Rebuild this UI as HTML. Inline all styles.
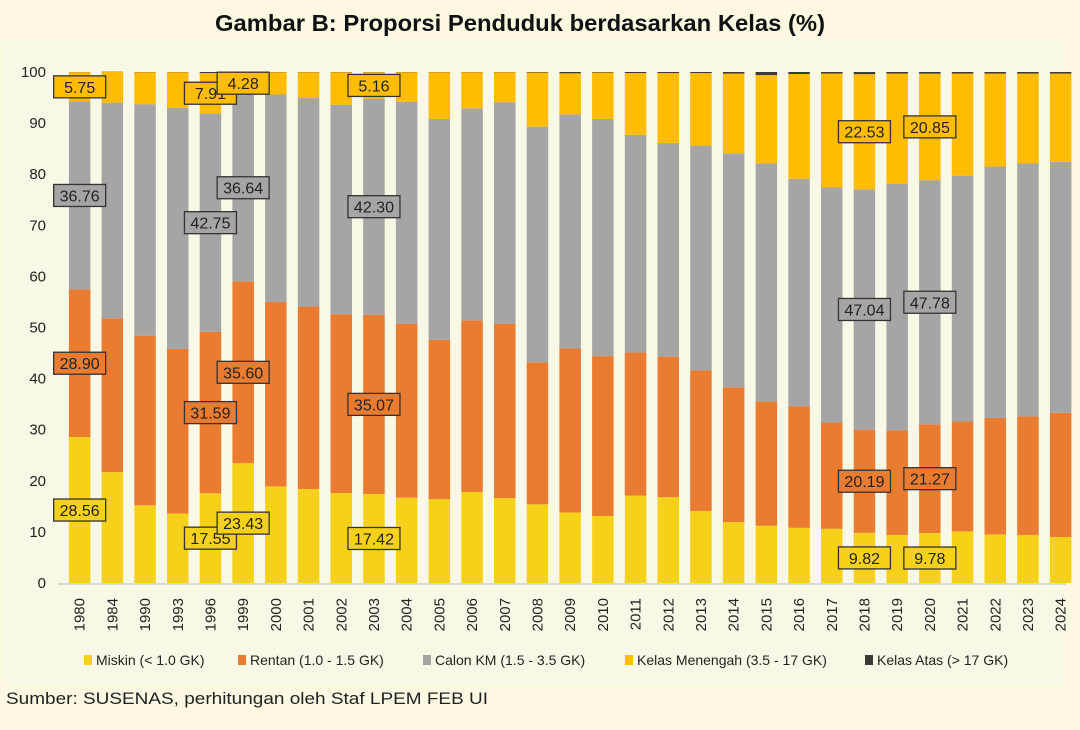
<!DOCTYPE html>
<html><head><meta charset="utf-8">
<style>
html,body{margin:0;padding:0;background:#fdf8e2;}
svg{display:block;font-family:"Liberation Sans",sans-serif;}
</style></head>
<body>
<svg id="chart" width="1080" height="730" viewBox="0 0 1080 730">
<rect x="0" y="0" width="1080" height="730" fill="#fdf8e2"/>
<rect x="4" y="41" width="1062" height="642" fill="#f9f8e6"/>
<text x="520" y="31" text-anchor="middle" font-size="23" font-weight="bold" fill="#111" textLength="610" lengthAdjust="spacingAndGlyphs">Gambar B: Proporsi Penduduk berdasarkan Kelas (%)</text>
<text x="6" y="704" font-size="17" fill="#222" textLength="482" lengthAdjust="spacingAndGlyphs">Sumber: SUSENAS, perhitungan oleh Staf LPEM FEB UI</text>
<g id="plot"></g>
</svg>
<script>
const years = ["1980","1984","1990","1993","1996","1999","2000","2001","2002","2003","2004","2005","2006","2007","2008","2009","2010","2011","2012","2013","2014","2015","2016","2017","2018","2019","2020","2021","2022","2023","2024"];
const miskin = [28.56,21.7,15.2,13.6,17.55,23.43,18.9,18.4,17.6,17.42,16.7,16.4,17.8,16.6,15.4,13.8,13.1,17.1,16.8,14.1,11.9,11.2,10.8,10.6,9.82,9.4,9.78,10.1,9.5,9.4,9.0];
const rentan = [28.90,30.1,33.2,32.2,31.59,35.60,36.1,35.7,35.0,35.07,34.0,31.2,33.6,34.1,27.8,32.1,31.3,28.0,27.5,27.5,26.4,24.3,23.8,20.8,20.19,20.5,21.27,21.5,22.8,23.2,24.3];
const calonKM = [36.76,42.2,45.3,47.2,42.75,36.64,40.6,40.8,41.0,42.30,43.5,43.2,41.5,43.4,46.1,45.8,46.4,42.6,41.8,44.0,45.8,46.6,44.5,46.0,47.04,48.2,47.78,48.1,49.2,49.5,49.1];
const menengah = [5.75,6.0,6.25,6.95,7.91,4.28,4.35,5.05,6.35,5.16,5.75,9.15,7.05,5.85,10.6,8.05,9.1,12.1,13.7,14.2,15.6,17.3,20.5,22.3,22.53,21.6,20.85,20.0,18.2,17.6,17.3];
const atas = [0.03,0.05,0.05,0.05,0.2,0.05,0.05,0.05,0.05,0.05,0.05,0.05,0.05,0.05,0.1,0.25,0.1,0.2,0.2,0.2,0.3,0.6,0.4,0.3,0.42,0.3,0.32,0.3,0.3,0.3,0.3];
const yTicks = [0,10,20,30,40,50,60,70,80,90,100];
const seriesNames = ["Miskin (< 1.0 GK)","Rentan (1.0 - 1.5 GK)","Calon KM (1.5 - 3.5 GK)","Kelas Menengah (3.5 - 17 GK)","Kelas Atas (> 17 GK)"];
const labeledYears = ["1980","1996","1999","2003","2018","2020"];

const NS = "http://www.w3.org/2000/svg";
const plot = document.getElementById("plot");
const colors = ["#f5d11a","#e97c30","#a5a5a5","#ffbc00","#3a3a3a"];
const keys = ["miskin","rentan","calon-km","kelas-menengah","kelas-atas"];
const series = [miskin,rentan,calonKM,menengah,atas];
const y0 = 583, pxPerUnit = 5.11, x0 = 63.3, band = 32.7, barW = 21.5;
function yScale(v){ return y0 - v*pxPerUnit; }
function xCenter(i){ return x0 + band*i + band/2; }
function mk(tag, attrs){ const e=document.createElementNS(NS,tag); for(const k in attrs) e.setAttribute(k,attrs[k]); return e; }

// y ticks
yTicks.forEach(t=>{
  const tx = mk("text",{x:46,y:yScale(t)+5,"text-anchor":"end","font-size":"15",fill:"#222"});
  tx.textContent = t;
  
  
  plot.appendChild(tx);
});

// bars
years.forEach((yr,i)=>{
  let cum = 0;
  const g = mk("g",{});
  
  
  series.forEach((s,k)=>{
    const v = s[i];
    const r = mk("rect",{x:xCenter(i)-barW/2,y:yScale(cum+v),width:barW,height:v*pxPerUnit,fill:colors[k]});
    
    
    g.appendChild(r);
    cum += v;
  });
  plot.appendChild(g);
  const lx = xCenter(i)+5, ly = 598;
  const tl = mk("text",{x:lx,y:ly,"font-size":"15",fill:"#222","text-anchor":"end",transform:`rotate(-90 ${lx} ${ly})`});
  tl.textContent = yr;
  
  
  plot.appendChild(tl);
});

// baseline
const base = mk("line",{x1:58,x2:1066,y1:y0+1,y2:y0+1,stroke:"#d9d9d9","stroke-width":"2"});


plot.appendChild(base);

// data labels
labeledYears.forEach(yr=>{
  const i = years.indexOf(yr);
  let cum = 0;
  for(let k=0;k<4;k++){
    const v = series[k][i];
    const mid = cum + v/2;
    cum += v;
    const txt = v.toFixed(2);
    const w = 52, h = 22;
    const cx = xCenter(i), cy = yScale(mid);
    const r = mk("rect",{x:cx-w/2,y:cy-h/2,width:w,height:h,fill:colors[k],stroke:"#333","stroke-width":"1.3"});
    
    
    plot.appendChild(r);
    const t = mk("text",{x:cx,y:cy+6,"text-anchor":"middle","font-size":"16",fill:"#222"});
    t.textContent = txt;
    
    
    plot.appendChild(t);
  }
});

// legend
const legendX = [84,238,423,625,865];
seriesNames.forEach((n,k)=>{
  const g = mk("g",{});
  
  
  const sw = mk("rect",{x:legendX[k],y:655,width:8,height:10,fill:colors[k]});
  
  
  g.appendChild(sw);
  const t = mk("text",{x:legendX[k]+12,y:665,"font-size":"14",fill:"#222"});
  t.textContent = n;
  
  
  g.appendChild(t);
  plot.appendChild(g);
});
</script>
</body></html>
